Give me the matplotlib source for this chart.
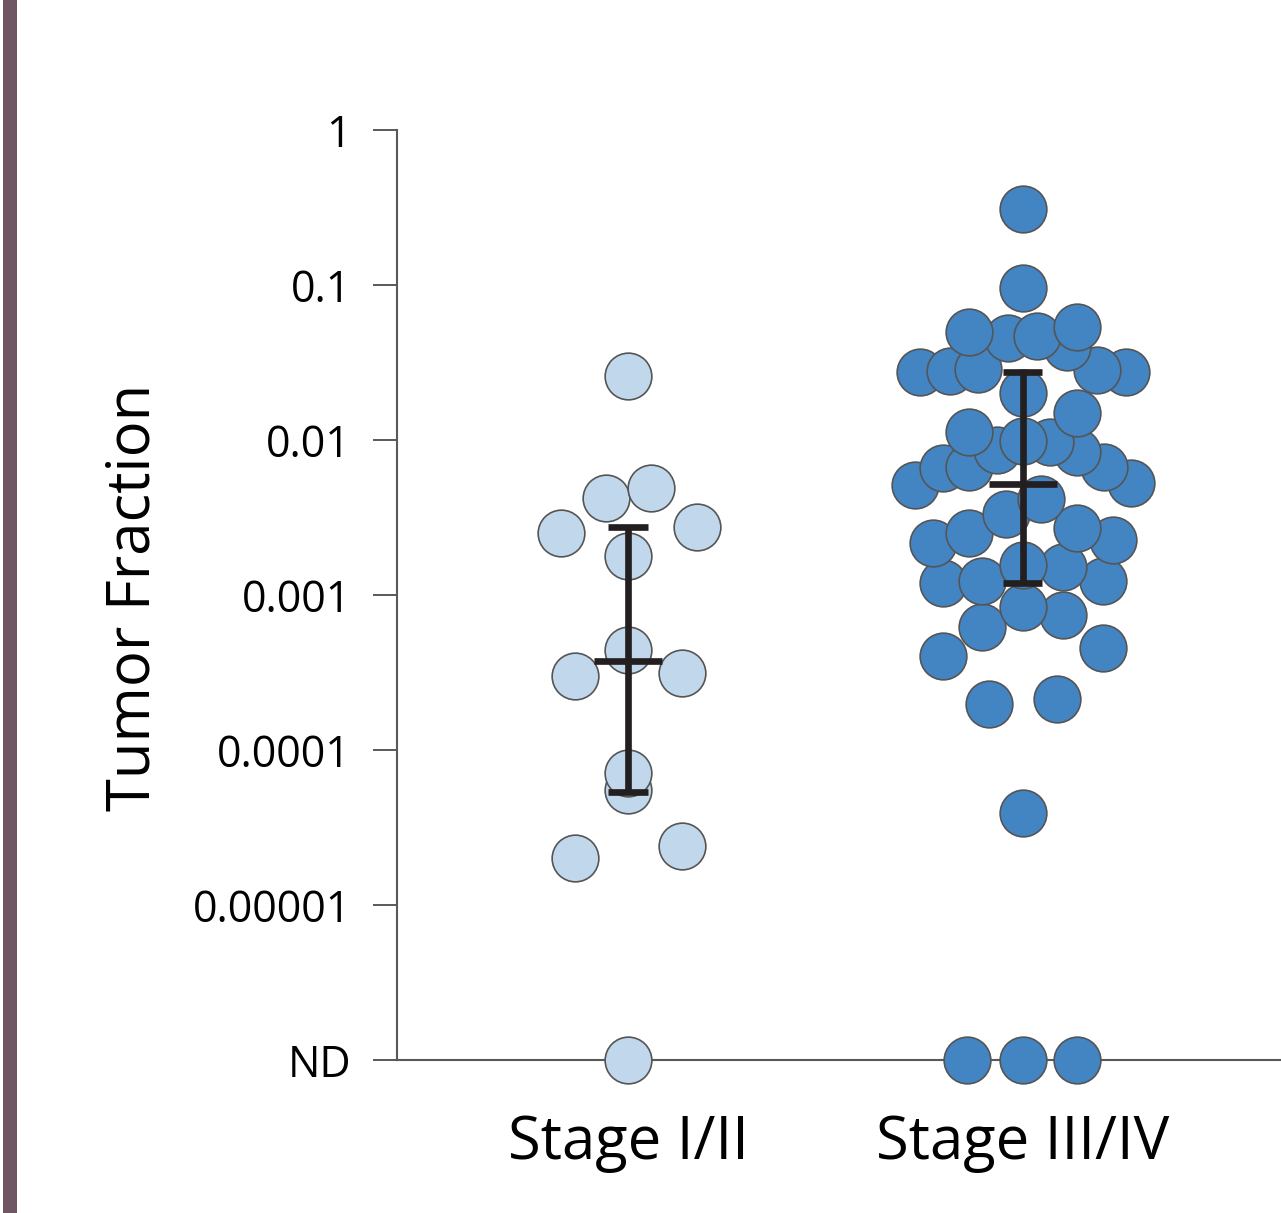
import numpy as np
import matplotlib
matplotlib.use("Agg")
import matplotlib.pyplot as plt
from matplotlib.patches import Rectangle

# Dados (0 = nao detectado, ND)
categorias = ["Stage I/II", "Stage III/IV"]

stage12 = [0.0259, 0.00423, 0.0049, 0.00251, 0.00275, 0.00179, 0.000442,
           0.00030, 0.000314, 7.1e-5, 5.5e-5, 2.0e-5, 2.4e-5, 0]
stage12_dx = [0, -0.056, 0.058, -0.170, 0.175, 0, 0,
              -0.135, 0.137, 0, 0, -0.135, 0.137, 0]

stage34 = [0.309, 0.0957, 0.0498, 0.0455, 0.0469, 0.0536, 0.0398,
           0.0275, 0.0279, 0.0287, 0.0283, 0.0275, 0.0201, 0.0149,
           0.01127, 0.00861, 0.00986, 0.00971, 0.00837,
           0.00513, 0.00659, 0.00670, 0.00670, 0.00528,
           0.00416, 0.00333, 0.00217, 0.00251, 0.00270, 0.00226,
           0.00119, 0.00123, 0.00156, 0.00152, 0.00123,
           0.000622, 0.000837, 0.000743, 0.000404, 0.000455,
           0.000198, 0.000213, 3.93e-5, 0, 0, 0]
stage34_dx = [0, 0, -0.135, -0.038, 0.036, 0.137, 0.112,
              -0.259, -0.185, -0.112, 0.188, 0.261, 0, 0.137,
              -0.135, -0.066, 0, 0.069, 0.137,
              -0.272, -0.203, -0.137, 0.206, 0.274,
              0.046, -0.043, -0.226, -0.135, 0.137, 0.228,
              -0.203, -0.102, 0, 0.102, 0.203,
              -0.102, 0, 0.102, -0.203, 0.203,
              -0.084, 0.086, 0, -0.14, 0, 0.137]

# media e intervalo (barras de erro)
media = [0.000375, 0.0052]
sup = [0.00275, 0.0275]
inf = [5.36e-5, 0.00119]

yticks = [1e-6, 1e-5, 1e-4, 1e-3, 1e-2, 1e-1, 1]
ytick_labels = ["ND", "0.00001", "0.0001", "0.001", "0.01", "0.1", "1"]

ND_POS = 1e-6
COR_CLARA = "#c1d8ec"
COR_ESCURA = "#4384c3"
COR_BORDA = "#555555"
COR_BARRA = "#231f20"
COR_EIXO = "#595959"

fig = plt.figure(figsize=(12.81, 12.13), dpi=100)
ax = fig.add_axes([0.3099, 0.1261, 0.6901, 0.7667])

# faixa lateral roxa
fig.patches.append(Rectangle((0.002, 0), 0.0115, 1, transform=fig.transFigure,
                             facecolor="#6f5663", edgecolor="none"))

grupos = [(stage12, stage12_dx, COR_CLARA), (stage34, stage34_dx, COR_ESCURA)]
for i, (vals, dx, cor) in enumerate(grupos):
    vals = np.array(vals, dtype=float)
    dx = np.array(dx)
    y = np.where(vals == 0, ND_POS, vals)
    ordem = np.argsort(y)
    ax.scatter(i + 1 + dx[ordem], y[ordem], s=1130, facecolor=cor,
               edgecolor=COR_BORDA, linewidth=1.2, zorder=3, clip_on=False)

for i in range(2):
    xc = i + 1
    ax.vlines(xc, inf[i], sup[i], color=COR_BARRA, lw=4.8, zorder=5)
    ax.hlines([inf[i], sup[i]], xc - 0.05, xc + 0.05, color=COR_BARRA,
              lw=4.8, zorder=5)
    ax.hlines(media[i], xc - 0.086, xc + 0.086, color=COR_BARRA, lw=4.8,
              zorder=5)

ax.set_yscale("log")
ax.set_ylim(ND_POS, 1)
ax.set_xlim(0.414, 2.655)
ax.set_yticks(yticks)
ax.set_yticklabels(ytick_labels, fontfamily="Open Sans", fontsize=31)
ax.yaxis.set_minor_locator(matplotlib.ticker.NullLocator())
ax.tick_params(axis="y", direction="out", length=17, width=1.4,
               color=COR_EIXO, pad=16)
ax.set_xticks([1, 2])
ax.set_xticklabels(categorias, fontfamily="Open Sans", fontsize=43)
ax.tick_params(axis="x", length=0, pad=38)

for lado in ["top", "right"]:
    ax.spines[lado].set_visible(False)
for lado in ["left", "bottom"]:
    ax.spines[lado].set_color(COR_EIXO)
    ax.spines[lado].set_linewidth(1.5)

fig.text(134 / 1281, 1 - 597 / 1213, "Tumor Fraction", rotation=90,
         ha="center", va="center", fontfamily="Open Sans", fontsize=43)

fig.savefig("out.png", dpi=100, facecolor="white")
